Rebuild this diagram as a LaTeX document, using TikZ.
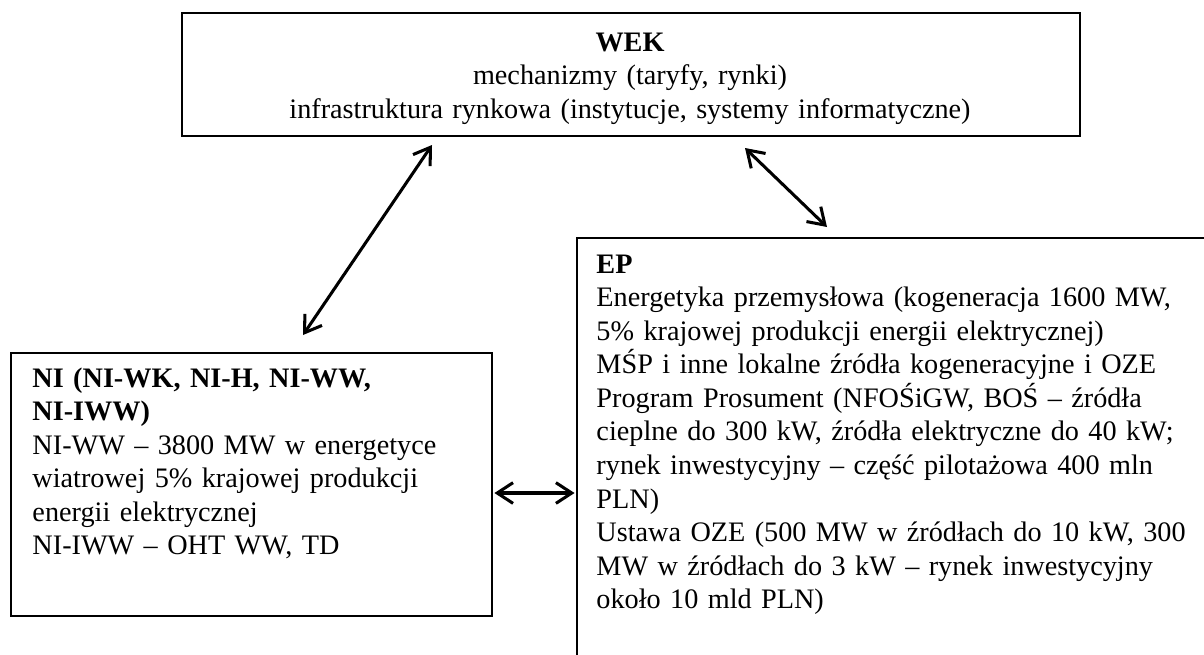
\documentclass[tikz,border=0pt]{standalone}
\usepackage{fontspec}
\setmainfont{Liberation Serif}
\usetikzlibrary{arrows.meta}
\begin{document}
\begin{tikzpicture}[x=0.411pt,y=-0.411pt,
  box/.style={draw, line width=0.8pt, inner sep=0pt, anchor=north west},
  txt/.style={inner sep=0pt, anchor=base west, align=left, text width=#1,
    font=\fontsize{11.6}{13.8}\selectfont},
  conn/.style={line width=1.25pt,
    {Straight Barb[length=6.5pt,width=8.5pt]}-{Straight Barb[length=6.5pt,width=8.5pt]}}]
\useasboundingbox (0,0) rectangle (1204,654);

% boxes
\node[box, minimum width=369.1pt, minimum height=50.6pt] (wek) at (181,12) {};
\node[box, minimum width=197.7pt, minimum height=108.1pt] (ni) at (10,352) {};
\node[box, minimum width=258.9pt, minimum height=190pt] (ep) at (576,237) {};

% texts
\node[txt=330pt, anchor=base, align=center] (wektxt) at (630,51)
  {\textbf{WEK}\\
   mechanizmy (taryfy, rynki)\\
   infrastruktura rynkowa (instytucje, systemy informatyczne)};

\node[txt=195pt] (nitxt) at (32,387)
  {\textbf{NI (NI-WK, NI-H, NI-WW,}\\
   \textbf{NI-IWW)}\\
   NI-WW – 3800 MW w energetyce\\
   wiatrowej 5\% krajowej produkcji\\
   energii elektrycznej\\
   NI-IWW – OHT WW, TD};

\node[txt=280pt] (eptxt) at (596,273)
  {\textbf{EP}\\
   Energetyka przemysłowa (kogeneracja 1600 MW,\\
   5\% krajowej produkcji energii elektrycznej)\\
   MŚP i inne lokalne źródła kogeneracyjne i OZE\\
   Program Prosument (NFOŚiGW, BOŚ – źródła\\
   cieplne do 300 kW, źródła elektryczne do 40 kW;\\
   rynek inwestycyjny – część pilotażowa 400 mln\\
   PLN)\\
   Ustawa OZE (500 MW w źródłach do 10 kW, 300\\
   MW w źródłach do 3 kW – rynek inwestycyjny\\
   około 10 mld PLN)};

% connectors
\coordinate (a1s) at (432,145);
\coordinate (a1e) at (303,335);
\coordinate (a2s) at (745,148);
\coordinate (a2e) at (827,227);
\draw[conn] (a1s) -- (a1e);
\draw[conn] (a2s) -- (a2e);
\draw[conn] ([yshift=-3.5pt,xshift=0.6pt]ni.east) -- ([yshift=-3.5pt,xshift=-0.6pt]ni.east -| ep.west);
\end{tikzpicture}
\end{document}
